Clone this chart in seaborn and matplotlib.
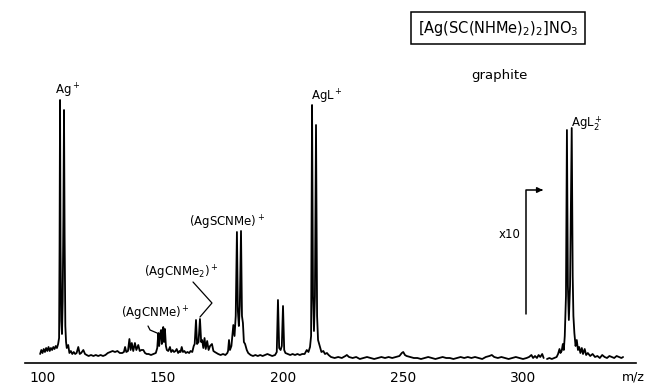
import numpy as np
import pandas as pd
import matplotlib
matplotlib.use("Agg")
import matplotlib.pyplot as plt
import seaborn as sns

# trace: m/z and pen height (arbitrary units above baseline)
mz_main = [98.8, 99.3, 99.8, 100.3, 100.8, 101.3, 101.8, 102.3, 102.8, 103.3, 103.8, 104.3,
           104.8, 105.3, 105.8, 106.3, 106.7, 106.9, 107.1, 107.3, 107.6, 107.9, 108.2, 108.5,
           108.75, 109.0, 109.3, 109.6, 109.9, 110.5, 111.0, 111.6, 112.2, 112.8, 113.4, 114.0,
           114.7, 115.3, 115.9, 116.8, 117.5, 118.2, 119.0, 120.0, 121.0, 122.0, 123.0, 124.0,
           125.0, 126.0, 127.0, 128.0, 129.0, 130.0, 131.0, 132.0, 133.0, 133.7, 134.2, 134.7,
           135.4, 136.0, 136.5, 137.0, 137.6, 138.3, 138.9, 139.7, 140.3, 141.0, 141.8, 142.5,
           143.2, 144.0, 145.0, 146.0, 147.0, 147.6, 148.05, 148.4, 148.8, 149.2, 149.5, 149.8,
           150.1, 150.4, 150.8, 151.2, 151.6, 152.2, 152.9, 153.4, 154.0, 154.6, 155.2, 155.7,
           156.3, 156.9, 157.3, 157.8, 158.3, 158.9, 159.5, 160.2, 160.9, 161.5, 162.2, 162.8,
           163.2, 163.75, 164.2, 164.8, 165.4, 165.9, 166.3, 166.8, 167.3, 167.8, 168.4, 169.0,
           169.6, 170.4, 171.0, 171.6, 172.3, 173.0, 174.0, 175.0, 176.0, 176.8, 177.1, 177.5,
           177.9, 178.5, 179.3, 179.8, 180.3, 180.8, 181.2, 181.6, 182.0, 182.5, 182.9, 183.3,
           183.7, 184.2, 184.9, 185.5, 186.5, 187.5, 188.5, 189.5, 190.5, 191.5, 192.5, 193.5,
           194.5, 195.5, 196.7, 197.4, 197.9, 198.4, 199.0, 199.5, 200.0, 200.5, 201.0, 202.0,
           203.0, 204.0, 205.0, 206.0, 207.0, 208.0, 209.0, 209.9, 210.6, 211.25, 211.7, 212.1,
           212.5, 212.9, 213.3, 213.75, 214.2, 214.6, 215.4, 216.0, 216.8, 217.5, 218.3, 219.0,
           220.0, 221.5, 223.0, 224.5, 226.0, 226.6, 227.5, 229.0, 230.5, 232.0, 233.5, 235.0,
           236.5, 238.0, 239.5, 241.0, 242.5, 244.0, 245.5, 247.0, 248.5, 249.5, 250.1, 250.8,
           251.5, 253.0, 254.5, 256.0, 257.5, 259.0, 260.5, 262.0, 263.5, 265.0, 266.5, 268.0,
           269.5, 271.0, 272.5, 274.0, 275.5, 277.0, 278.5, 280.0, 281.5, 283.0, 284.5, 286.0,
           287.0, 288.0, 289.5, 291.0, 292.5, 294.0, 295.5, 297.0, 298.5, 300.0, 301.5, 302.5,
           303.5, 304.2, 305.0, 305.8, 306.5, 307.2, 308.0, 308.6]
int_main = [2, 6, 3, 7, 4, 8, 5, 9, 5, 8, 6, 9,
            7, 10, 8, 12, 18, 110, 256, 110, 35, 22, 55, 140,
            246, 120, 30, 14, 8, 11, 3, 5, 2, 4, 2, 3,
            9, 2, 3, 6, 2, 1, 0, 1, 0, 1, 0, 1,
            0, 1, 3, 4, 5, 4, 5, 3, 3, 4, 9, 4,
            5, 17, 6, 13, 5, 13, 6, 11, 5, 6, 6, 3,
            2, 2, 1, 2, 3, 8, 23, 10, 22, 26, 12, 24,
            29, 14, 27, 10, 6, 5, 9, 4, 6, 4, 5, 7,
            3, 5, 4, 9, 4, 5, 3, 4, 3, 5, 4, 10,
            12, 36, 12, 14, 37, 14, 16, 8, 18, 7, 15, 6,
            10, 12, 5, 4, 3, 2, 1, 2, 1, 3, 5, 16,
            6, 10, 31, 20, 40, 124, 45, 30, 50, 125, 40, 33,
            14, 12, 6, 3, 1, 0, 1, 0, 1, 0, 1, 2,
            1, 0, 1, 4, 56, 8, 6, 10, 50, 6, 3, 2,
            1, 2, 1, 2, 1, 2, 2, 6, 4, 9, 20, 251,
            60, 25, 60, 231, 40, 16, 9, 4, 5, 2, 3, 1,
            -1, -2, -1, -2, 0, 1, -1, -2, -1, -3, -2, -1,
            -2, -3, -2, -1, -2, -1, -2, -1, 0, 3, 4, 1,
            0, -1, -2, -2, -3, -2, -1, -2, -3, -2, -1, -2,
            -2, -3, -2, -1, -2, -1, -2, -1, -2, -3, -1, 0,
            1, -1, -2, -1, -2, -3, -2, -1, -2, -3, -2, -1,
            1, -2, 0, -2, 1, -1, 2, -2]

# x10 part (after the pen break)
mz_x10 = [310.0, 311.0, 312.0, 313.0, 314.0, 314.6, 315.2, 315.6, 316.1, 316.6, 317.0, 317.4,
          317.9, 318.3, 318.7, 319.1, 319.6, 320.3, 320.7, 321.0, 321.4, 321.9, 322.4, 322.9,
          323.4, 323.9, 324.5, 325.0, 325.7, 326.3, 327.0, 328.0, 329.0, 330.0, 331.0, 332.0,
          333.0, 334.0, 335.0, 336.0, 337.0, 338.0, 339.0, 340.0, 341.0, 341.7]
int_x10 = [-3, -2, -3, -2, -1, 2, 7, 3, 5, 12, 6, 20,
           60, 226, 70, 36, 70, 228, 80, 40, 23, 10, 16, 6,
           9, 3, 8, 2, 7, 1, 3, 0, 2, -1, 0, -2,
           1, -1, -2, 0, -1, -2, 0, -1, -2, -1]

tick_pos = [100, 125, 150, 175, 200, 225, 250, 275, 300, 325]
tick_lab = ["100", "", "150", "", "200", "", "250", "", "300", ""]

df = pd.concat([
    pd.DataFrame({"mz": mz_main, "intensity": int_main, "seg": 0}),
    pd.DataFrame({"mz": mz_x10, "intensity": int_x10, "seg": 1}),
])

sns.set_style("white")
plt.rcParams["font.family"] = ["DejaVu Sans"]
plt.rcParams["text.color"] = "black"
plt.rcParams["xtick.color"] = "black"

fig = plt.figure(figsize=(6.48, 3.85), dpi=100)
ax = fig.add_axes([0, 0, 1, 1])

sns.lineplot(data=df, x="mz", y="intensity", units="seg", estimator=None, sort=False,
             color="black", lw=1.3, ax=ax)

ax.set_xlim(82.08, 352.08)
ax.set_ylim(-29, 356)
ax.set_xlabel("")
ax.set_ylabel("")
ax.set_yticks([])
ax.set_xticks(tick_pos)
ax.set_xticklabels(tick_lab, fontsize=9)
ax.tick_params(axis="x", direction="out", length=4, width=1, pad=2, colors="black")
for s in ["left", "right", "top"]:
    ax.spines[s].set_visible(False)
ax.spines["bottom"].set_position(("data", -7))
ax.spines["bottom"].set_bounds(92.5, 347)
ax.spines["bottom"].set_linewidth(1.2)
ax.spines["bottom"].set_color("black")
ax.text(345.8, -21, "m/z", ha="center", va="center", fontsize=9)

# peak labels
fs = 8.5
ax.text(110.4, 265, r"Ag$^+$", ha="center", va="center", fontsize=fs)
ax.text(218.3, 259, r"AgL$^+$", ha="center", va="center", fontsize=fs)
ax.text(326.7, 232, r"AgL$_2^+$", ha="center", va="center", fontsize=fs)
ax.text(176.5, 133, r"(AgSCNMe)$^+$", ha="center", va="center", fontsize=fs)
ax.text(157.5, 83, r"(AgCNMe$_2$)$^+$", ha="center", va="center", fontsize=fs)
ax.text(146.7, 42, r"(AgCNMe)$^+$", ha="center", va="center", fontsize=fs)
ax.plot([162.5, 170.4, 165.4], [74, 53, 39], color="black", lw=0.9)
ax.plot([143.75, 144.6, 147.5], [30, 26, 23], color="black", lw=0.9)

ax.text(290, 280, "graphite", ha="center", va="center", fontsize=9.5)
ax.text(289.6, 328, r"[Ag(SC(NHMe)$_2$)$_2$]NO$_3$", ha="center", va="center", fontsize=10.5,
        bbox=dict(boxstyle="square,pad=0.45", fc="white", ec="black", lw=1.1))

# x10 marker
ax.plot([301.25, 301.25, 307.5], [42, 166, 166], color="black", lw=1.1)
ax.annotate("", xy=(309.4, 166), xytext=(306.5, 166),
            arrowprops=dict(arrowstyle="-|>", color="black", lw=1.1, mutation_scale=8))
ax.text(294.6, 121, "x10", ha="center", va="center", fontsize=8.5)

fig.savefig("out.png", dpi=100, facecolor="white")
